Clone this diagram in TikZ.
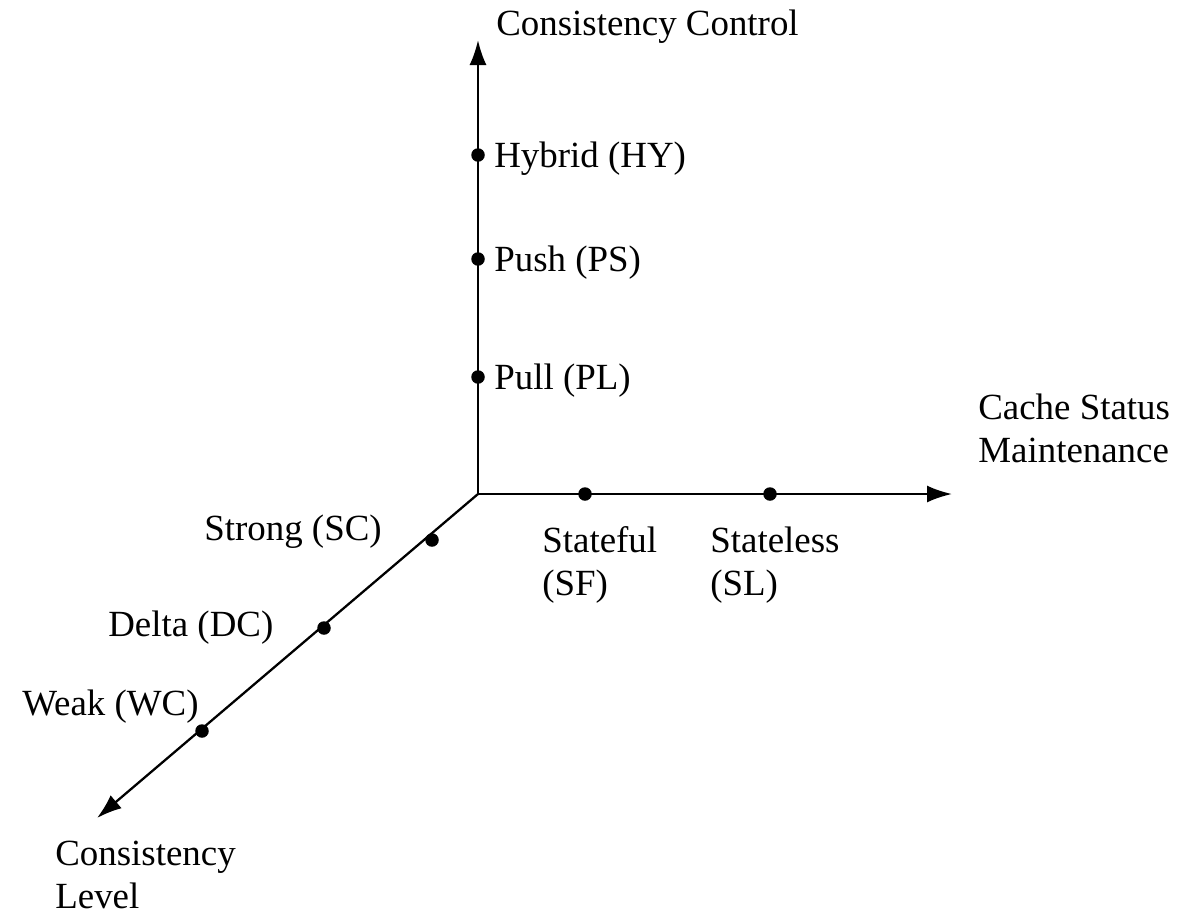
\documentclass[tikz,border=0pt]{standalone}
\usepackage{fontspec}
\setmainfont{Liberation Serif}
\usetikzlibrary{arrows.meta}

\begin{document}
\begin{tikzpicture}[
    x=0.02cm, y=-0.02cm,
    axis/.style={-{Latex[length=0.5cm, width=0.34cm]}, line width=1.3pt},
    dot/.style={circle, fill, inner sep=0pt, minimum size=0.27cm},
    lbl/.style={anchor=base west, inner sep=0pt, align=left, font=\fontsize{21}{24}\selectfont}
]
    \useasboundingbox (0,0) rectangle (1189,914);

    \coordinate (origin) at (478,494);
    \coordinate (ctrlend) at (478,40);
    \coordinate (statend) at (952,494);
    \coordinate (levelend) at (97,818);

    \draw[axis] (origin) -- (ctrlend);
    \draw[axis] (origin) -- (statend);
    \draw[axis] (origin) -- (levelend);

    \node[dot] (hy) at (478,155) {};
    \node[dot] (ps) at (478,259) {};
    \node[dot] (pl) at (478,377) {};
    \node[dot] (sf) at (585,494) {};
    \node[dot] (sl) at (770,494) {};
    \node[dot] (sc) at (432,540) {};
    \node[dot] (dc) at (324,628) {};
    \node[dot] (wc) at (202,731) {};

    % single-line labels sit on their baseline, two-line ones on the last line
    \node[lbl] (ctrllbl) at (496,35) {Consistency Control};
    \node[lbl] (hylbl) at (494,167) {Hybrid (HY)};
    \node[lbl] (pslbl) at (494,271) {Push (PS)};
    \node[lbl] (pllbl) at (494,389) {Pull (PL)};
    \node[lbl] (statlbl) at (978,462) {Cache Status\\Maintenance};
    \node[lbl] (sflbl) at (542,595) {Stateful\\(SF)};
    \node[lbl] (sllbl) at (710,595) {Stateless\\(SL)};
    \node[lbl] (sclbl) at (204,540) {Strong (SC)};
    \node[lbl] (dclbl) at (108,636) {Delta (DC)};
    \node[lbl] (wclbl) at (22,715) {Weak (WC)};
    \node[lbl] (levellbl) at (55,908) {Consistency\\Level};
\end{tikzpicture}
\end{document}
